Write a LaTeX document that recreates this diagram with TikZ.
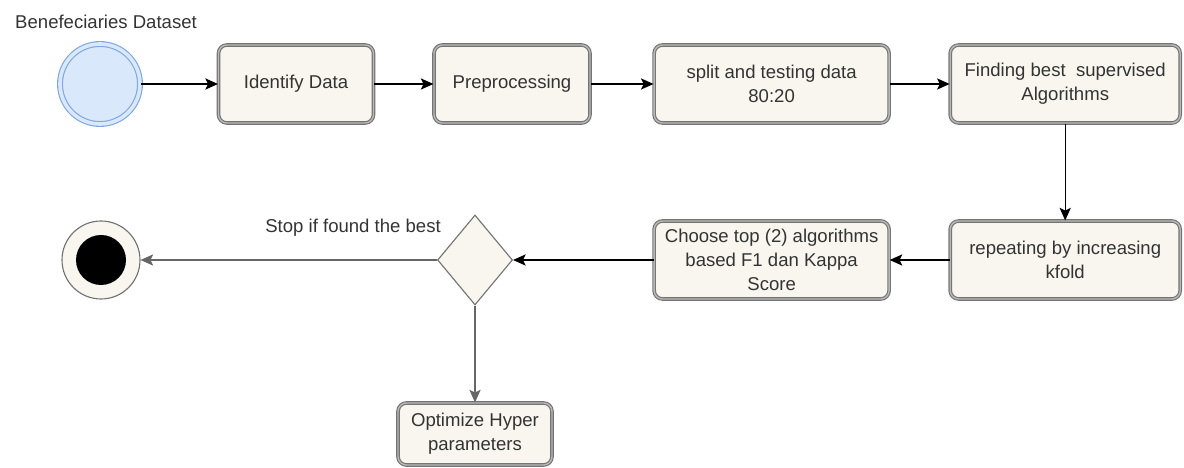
\documentclass[tikz,border=0pt]{standalone}
\usepackage{fontspec}
\setmainfont{Liberation Sans}
\usetikzlibrary{arrows.meta,positioning,shapes.geometric}
\definecolor{boxfill}{HTML}{F8F6EE}
\definecolor{boxline}{HTML}{747474}
\definecolor{boxgap}{HTML}{B8B8B8}
\definecolor{startfill}{HTML}{DAE8FC}
\definecolor{startline}{HTML}{7EA6E0}
\definecolor{txt}{HTML}{333333}

\begin{document}
\begin{tikzpicture}[line width=0.8pt,
  font=\fontsize{13.2}{17}\selectfont, text=txt,
  act/.style={rectangle, rounded corners=6pt, draw=boxline, double=boxgap,
    double distance=1pt, fill=boxfill, align=center, inner sep=2pt},
  flow/.style={-{Stealth[length=9pt,width=8pt,inset=2pt]}, line width=1pt},
  flowgray/.style={flow, draw=black!60}]
  \useasboundingbox (0,0) rectangle (29.6,11.7);
  \node[anchor=west] (title) at (0.25,11.15) {Benefeciaries Dataset};
  \node[circle, minimum size=2cm, draw=startline, double=startfill, double distance=2.6pt, fill=startfill] (start) at (2.5,9.6) {};
  \node[act, minimum width=3.875cm, minimum height=1.95cm] (identify) at (7.4,9.6) {Identify Data};
  \node[act, minimum width=3.9cm, minimum height=1.95cm] (prep) at (12.8,9.6) {Preprocessing};
  \node[act, minimum width=5.875cm, minimum height=1.95cm] (split) at (19.29,9.6) {split and testing data\\80:20};
  \node[act, minimum width=5.75cm, minimum height=1.95cm] (finding) at (26.63,9.6) {Finding best\ \ supervised\\Algorithms};
  \node[act, minimum width=5.75cm, minimum height=1.95cm] (repeat) at (26.63,5.2) {repeating by increasing\\kfold};
  \node[act, minimum width=5.875cm, minimum height=1.95cm] (choose) at (19.29,5.2) {Choose top (2) algorithms\\based F1 dan Kappa\\Score};
  \node[diamond, aspect=0.83, minimum width=1.875cm, minimum height=2.25cm, inner sep=0pt, draw=black!55, fill=boxfill] (decide) at (11.875,5.2) {};
  \node[circle, minimum size=1.95cm, draw=black!55, fill=boxfill] (stop) at (2.525,5.2) {};
  \node[circle, minimum size=1.25cm, fill=black] (stopdot) at (stop) {};
  \node[act, minimum width=3.85cm, minimum height=1.55cm] (optimize) at (11.875,0.85) {Optimize Hyper\\parameters};
  \node[anchor=east] (stoplabel) at (11.15,6.0) {Stop if found the best};
  \draw[flow] (start) -- (identify);
  \draw[flow] (identify) -- (prep);
  \draw[flow] (prep) -- (split);
  \draw[flow] (split) -- (finding);
  \draw[flow] (finding) -- (repeat);
  \draw[flow] (repeat) -- (choose);
  \draw[flow] (choose) -- (decide);
  \draw[flowgray] (decide) -- (stop);
  \draw[flowgray] (decide) -- (optimize);
\end{tikzpicture}
\end{document}
